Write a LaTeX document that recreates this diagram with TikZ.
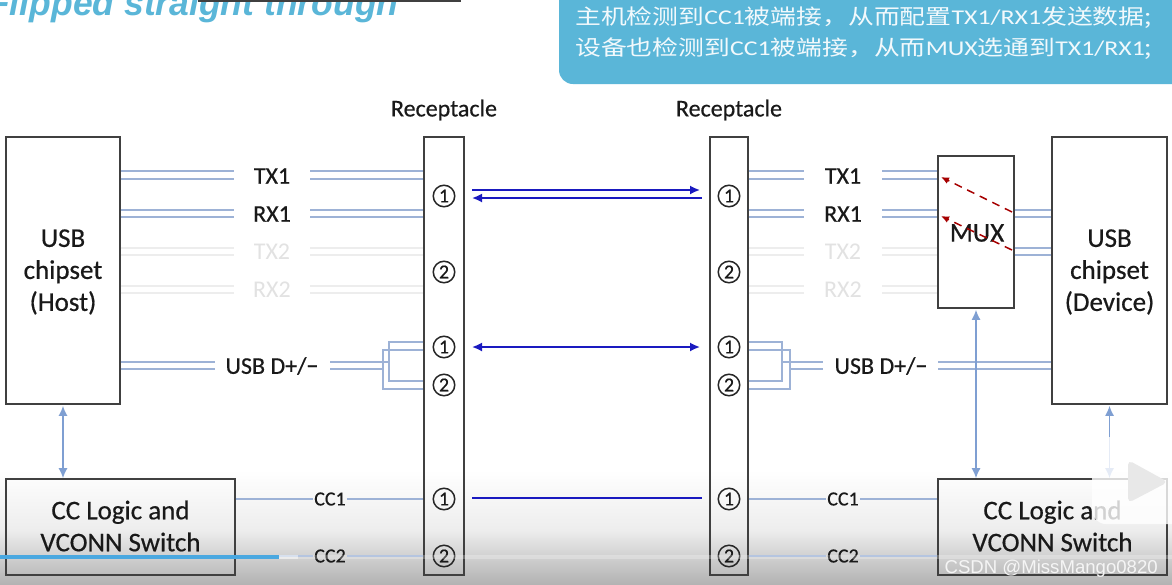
\documentclass[tikz,border=0pt]{standalone}
\usepackage{fontspec}
\usepackage{graphicx}
\setmainfont{Carlito}
\newfontfamily\heavy{Carlito}[FakeBold=0.5]
\newfontfamily\cjk{Noto Sans CJK SC}
\newfontfamily\titlefont{Liberation Sans}
\newfontfamily\markfont{Liberation Sans}
\newcommand{\fwc}{\char"FF0C\relax}
\usetikzlibrary{arrows.meta}
\definecolor{sigblue}{HTML}{9DB2D6}
\definecolor{arrblue}{HTML}{7F9FD2}
\definecolor{deepblue}{HTML}{1A1AC0}
\definecolor{boxline}{HTML}{404040}
\definecolor{callout}{HTML}{5AB6D8}
\definecolor{faint}{HTML}{EDEDED}
\definecolor{fainttext}{HTML}{E2E2E2}
\definecolor{bar}{HTML}{4AA8E0}
\tikzset{
  x=1pt,y=-1pt,
  box/.style={draw=boxline,line width=1.6pt,inner sep=0pt},
  boxtext/.style={inner sep=0pt,align=center,font=\heavy\fontsize{27}{32}\selectfont,text=black!90},
  lab/.style={inner sep=0pt,font=\heavy\fontsize{24}{26}\selectfont,text=black!90},
  cclab/.style={inner sep=0pt,inner xsep=1pt,font=\heavy\fontsize{20}{22}\selectfont,text=black!90},
  ghost/.style={lab,font=\fontsize{24}{26}\selectfont,text=fainttext},
  pin/.style={circle,draw=black!85,line width=1.5pt,minimum size=21.5pt,inner sep=0pt,font=\heavy\fontsize{20}{20}\selectfont,text=black!90},
  sig/.style={draw=sigblue,line width=1.6pt},
  sigthin/.style={draw=sigblue,line width=1.5pt},
  ghostline/.style={draw=faint,line width=1.2pt},
  link/.style={draw=arrblue,line width=1.5pt,{Latex[length=10pt,width=9pt]}-{Latex[length=10pt,width=9pt]}},
  deep/.style={draw=deepblue,line width=1.7pt},
  tipR/.style={-{Latex[length=10pt,width=9pt]}},
  tipL/.style={{Latex[length=10pt,width=9pt]}-},
  tipB/.style={{Latex[length=10pt,width=9pt]}-{Latex[length=10pt,width=9pt]}},
  swap/.style={draw=red!65!black,line width=1.5pt,dash pattern=on 8pt off 6pt,-{Latex[length=8pt,width=7pt]}},
}
\newcommand{\dbl}[5][sig]{%
  \draw[#1] (#2 |- 0,#4) -- (#3 |- 0,#4);
  \draw[#1] (#2 |- 0,#5) -- (#3 |- 0,#5);}
\begin{document}
\begin{tikzpicture}
\useasboundingbox (0,0) rectangle (1172,584);
\fill[white] (0,0) rectangle (1172,584);
\shade[top color=white,bottom color=white!93!black] (0,470) rectangle (1172,530);
\shade[top color=white!93!black,bottom color=white!70!black] (0,530) rectangle (1172,584);
% title and callout
\node[anchor=base west,inner sep=0pt,text=callout,font=\titlefont\fontsize{35.5}{38}\selectfont\bfseries\itshape] (title) at (-12,15) {Flipped straight through};
\coordinate (ruleL) at (198,0.5);
\coordinate (ruleR) at (461,0.5);
\draw[boxline,line width=2pt] (ruleL) -- (ruleR);
\fill[callout,rounded corners=14pt] (559,-30) rectangle (1200,84);
\node[anchor=west,inner sep=0pt,text=white!92!callout] (note1) at (575,18) {\scalebox{1.23}[1]{\fontsize{21}{24}\selectfont\cjk 主机检测到{\rmfamily CC1}被端接\fwc 从而配置{\rmfamily TX1/RX1}发送数据;}};
\node[anchor=west,inner sep=0pt,text=white!92!callout] (note2) at (575,49) {\scalebox{1.23}[1]{\fontsize{21}{24}\selectfont\cjk 设备也检测到{\rmfamily CC1}被端接\fwc 从而{\rmfamily MUX}选通到{\rmfamily TX1/RX1};}};
% boxes
\node[box,minimum width=114pt,minimum height=267pt] (host) at (63,270.5) {};
\node[boxtext] (hostt) at (63,272) {USB\\chipset\\(Host)};
\node[box,minimum width=229pt,minimum height=96pt] (ccl) at (120.5,527) {};
\node[boxtext] (cclt) at (120.5,526) {CC Logic and\\VCONN Switch};
\node[box,minimum width=40pt,minimum height=438pt] (recL) at (444,356) {};
\node[box,minimum width=38pt,minimum height=438pt] (recR) at (729,356) {};
\node[box,minimum width=76pt,minimum height=152pt] (mux) at (976,232) {};
\node[boxtext] (muxt) at (977,233) {MUX};
\node[box,minimum width=115pt,minimum height=267pt] (dev) at (1109.5,270.5) {};
\node[boxtext] (devt) at (1109.5,272) {USB\\chipset\\(Device)};
\node[box,minimum width=229pt,minimum height=96pt] (ccr) at (1052.5,527) {};
\node[boxtext] (ccrt) at (1052.5,526) {CC Logic and\\VCONN Switch};
\node[lab] (rl) at (444,110) {Receptacle};
\node[lab] (rr) at (729,110) {Receptacle};
% pins
\foreach \n/\t/\y in {a/1/196,b/2/272,c/1/347,d/2/385,e/1/499,f/2/556}{
  \node[pin] (L\n) at (444,\y) {\t};
  \node[pin] (R\n) at (729,\y) {\t};
}
% left labels
\node[lab] (tl1) at (272,176) {TX1};
\node[lab] (rl1) at (272,214) {RX1};
\node[ghost] (tl2) at (272,252) {TX2};
\node[ghost] (rl2) at (272,290) {RX2};
\node[lab] (ul) at (272,366) {USB D+/−};
\node[cclab] (cl1) at (330,499) {CC1};
\node[cclab] (cl2) at (330,556) {CC2};
% right labels
\node[lab] (tr1) at (843,176) {TX1};
\node[lab] (rr1) at (843,214) {RX1};
\node[ghost] (tr2) at (843,252) {TX2};
\node[ghost] (rr2) at (843,290) {RX2};
\node[lab] (ur) at (881,366) {USB D+/−};
\node[cclab] (cr1) at (843,499) {CC1};
\node[cclab] (cr2) at (843,556) {CC2};
% left signal pairs
\coordinate (a1) at (234,0); \coordinate (a2) at (310,0);
\dbl{host.east}{a1}{171}{179} \dbl{a2}{recL.west}{171}{179}
\dbl{host.east}{a1}{210}{217} \dbl{a2}{recL.west}{210}{217}
\dbl[ghostline]{host.east}{a1}{248}{255} \dbl[ghostline]{a2}{recL.west}{248}{255}
\dbl[ghostline]{host.east}{a1}{286}{293} \dbl[ghostline]{a2}{recL.west}{286}{293}
% right signal pairs
\coordinate (b1) at (804,0); \coordinate (b2) at (882,0);
\dbl{recR.east}{b1}{171}{179} \dbl{b2}{mux.west}{171}{179}
\dbl{recR.east}{b1}{210}{217} \dbl{b2}{mux.west}{210}{217}
\dbl[ghostline]{recR.east}{b1}{248}{255} \dbl[ghostline]{b2}{mux.west}{248}{255}
\dbl[ghostline]{recR.east}{b1}{286}{293} \dbl[ghostline]{b2}{mux.west}{286}{293}
\dbl{mux.east}{dev.west}{210}{217}
\dbl{mux.east}{dev.west}{248}{255}
% USB D+/- left
\coordinate (u1) at (215,0); \coordinate (u2) at (330,0);
\dbl{host.east}{u1}{362}{369}
\draw[sigthin] (u2 |- 0,362) -- (389,362);
\draw[sigthin] (u2 |- 0,369) -- (383,369);
\draw[sigthin] (recL.west |- 0,342) -| (389,381) -- (recL.west |- 0,381);
\draw[sigthin] (recL.west |- 0,350) -| (383,389) -- (recL.west |- 0,389);
% USB D+/- right
\coordinate (u3) at (823,0); \coordinate (u4) at (938,0);
\draw[sigthin] (782,362) -- (u3 |- 0,362);
\draw[sigthin] (790,369) -- (u3 |- 0,369);
\dbl{u4}{dev.west}{362}{369}
\draw[sigthin] (recR.east |- 0,342) -| (782,381) -- (recR.east |- 0,381);
\draw[sigthin] (recR.east |- 0,350) -| (790,389) -- (recR.east |- 0,389);
% CC lines
\draw[sigthin] (ccl.east |- cl1) -- (cl1);
\draw[sigthin] (cl1) -- (recL.west |- cl1);
\draw[sigthin] (ccl.east |- cl2) -- (cl2);
\draw[sigthin] (cl2) -- (recL.west |- cl2);
\draw[sigthin] (recR.east |- cr1) -- (cr1);
\draw[sigthin] (cr1) -- (ccr.west |- cr1);
\draw[sigthin] (recR.east |- cr2) -- (cr2);
\draw[sigthin] (cr2) -- (ccr.west |- cr2);
% vertical links
\draw[link] (host.south) ++(0,1) -- (ccl.north -| host.south);
\draw[link] (mux.south) ++(0,1) -- (ccr.north -| mux.south);
\draw[link] (dev.south) ++(0,1) -- (ccr.north -| dev.south);
% deep blue
\coordinate (dl) at (472,0); \coordinate (dr) at (700,0);
\draw[deep,tipR] (dl |- 0,190) -- (dr |- 0,190);
\draw[deep,tipL] (dl |- 0,198) -- (702,198);
\draw[deep,tipB] (dl |- Lc) -- (dr |- Lc);
\draw[deep] (dl |- 0,498) -- (702,498);
% mux swaps
\draw[swap] (1012,212) -- (941,177);
\draw[swap] (1012,250) -- (941,216);
% video overlay
\draw[bar,line width=3.5pt] (0,557) -- (279,557);
\draw[white,opacity=.6,line width=3.5pt] (279,557) -- (298,557);
\draw[white,opacity=.25,line width=3.5pt] (298,557) -- (1172,557);
\node[anchor=base east,inner sep=0pt,text=white!96!black,font=\markfont\fontsize{18.6}{20}\selectfont] (mark) at (1158,573) {CSDN @MissMango0820};
\fill[white,opacity=.8,rounded corners=14pt] (1092,437) rectangle (1190,524);
\draw[white,opacity=.85,line width=5pt,line cap=round] (1120,424) -- (1134,438);
\draw[white,opacity=.85,line width=5pt,line cap=round] (1170,424) -- (1156,438);
\fill[black!9,rounded corners=5pt] (1128,460) -- (1168,482) -- (1128,503) -- cycle;
\end{tikzpicture}
\end{document}
